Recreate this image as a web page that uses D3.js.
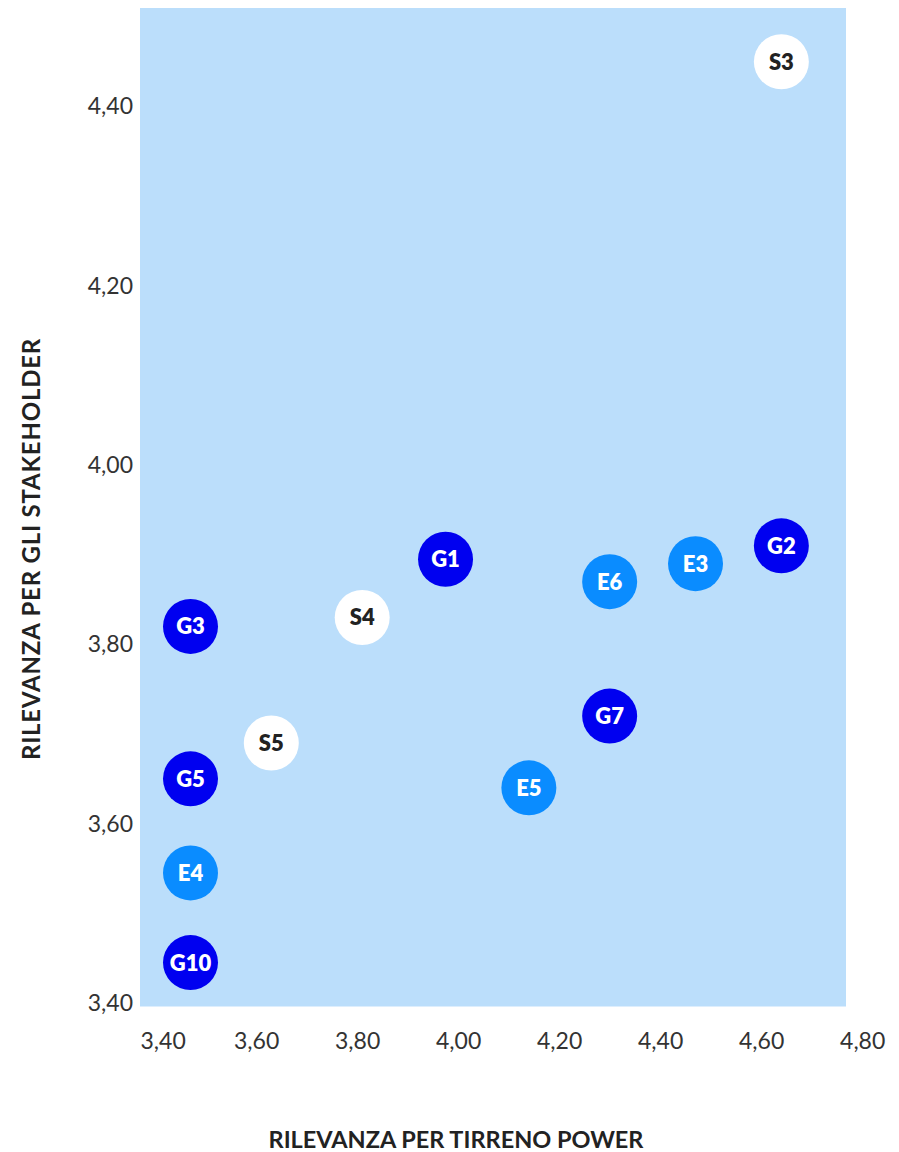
<!DOCTYPE html>
<html>
<head>
<meta charset="utf-8">
<script src="https://cdn.jsdelivr.net/npm/d3@7"></script>
<style>
  html, body { margin: 0; padding: 0; background: #ffffff; }
  svg { display: block; }
  text { font-family: Lato, "Noto Sans", sans-serif; }
</style>
</head>
<body>
<svg id="chart" width="899" height="1152"></svg>
<script>
// Materiality matrix: relevance for the company (x) vs relevance for stakeholders (y)
const codes      = ["S3", "G2", "E3", "E6", "G1", "S4", "G3", "S5", "G7", "E5", "G5", "E4", "G10"];
const groups     = ["S",  "G",  "E",  "E",  "G",  "S",  "G",  "S",  "G",  "E",  "G",  "E",  "G"];
const companyRel = [4.64, 4.64, 4.47, 4.30, 3.975, 3.81, 3.47, 3.63, 4.30, 4.14, 3.47, 3.47, 3.47];
const stakeRel   = [4.45, 3.91, 3.89, 3.87, 3.895, 3.83, 3.82, 3.69, 3.72, 3.64, 3.65, 3.545, 3.445];

const xTicks = [3.40, 3.60, 3.80, 4.00, 4.20, 4.40, 4.60, 4.80];
const yTicks = [3.40, 3.60, 3.80, 4.00, 4.20, 4.40];

const xTitle = "RILEVANZA PER TIRRENO POWER";
const yTitle = "RILEVANZA PER GLI STAKEHOLDER";

const fillByGroup = { G: "#0000f0", E: "#0a8cff", S: "#ffffff" };
const textByGroup = { G: "#ffffff", E: "#ffffff", S: "#222222" };

const points = codes.map((c, i) => ({ code: c, group: groups[i], x: companyRel[i], y: stakeRel[i] }));

const svg = d3.select("#chart");
const plot = { left: 140, right: 846, top: 8, bottom: 1006.5 };

const x = d3.scaleLinear().domain([3.37, 4.768]).range([plot.left, plot.right]);
const y = d3.scaleLinear().domain([3.396, 4.51]).range([plot.bottom, plot.top]);

const fmt = v => d3.format(".2f")(v).replace(".", ",");

// plot background
svg.append("rect")
  .attr("x", plot.left).attr("y", plot.top)
  .attr("width", plot.right - plot.left).attr("height", plot.bottom - plot.top)
  .attr("fill", "#bbdefb");

// x axis labels
const xAxis = svg.append("g")
  .attr("transform", `translate(0,${plot.bottom + 26})`)
  .call(d3.axisBottom(x).tickValues(xTicks).tickFormat(fmt).tickSize(0).tickPadding(0));
xAxis.select(".domain").remove();
xAxis.selectAll("text")
  .attr("font-size", 23).attr("fill", "#333333")
  .attr("font-family", "Lato, sans-serif");
// keep the first label inside the plot's left edge
xAxis.selectAll(".tick").filter(d => d === xTicks[0]).select("text")
  .attr("text-anchor", "start").attr("x", plot.left - x(xTicks[0]));

// y axis labels
const yAxis = svg.append("g")
  .attr("transform", `translate(${plot.left - 7},0)`)
  .call(d3.axisLeft(y).tickValues(yTicks).tickFormat(fmt).tickSize(0).tickPadding(0));
yAxis.select(".domain").remove();
yAxis.selectAll("text")
  .attr("font-size", 23).attr("fill", "#333333")
  .attr("font-family", "Lato, sans-serif");

// axis titles
svg.append("text")
  .attr("x", 456).attr("y", 1148)
  .attr("text-anchor", "middle")
  .attr("font-size", 23.5).attr("font-weight", 700).attr("fill", "#222222")
  .text(xTitle);

svg.append("text")
  .attr("transform", "translate(40,549) rotate(-90)")
  .attr("text-anchor", "middle")
  .attr("font-size", 24).attr("font-weight", 700).attr("fill", "#222222")
  .attr("letter-spacing", 0.8)
  .text(yTitle);

// bubbles
const node = svg.append("g").selectAll("g")
  .data(points).join("g")
  .attr("transform", d => `translate(${x(d.x)},${y(d.y)})`);

node.append("circle")
  .attr("r", 27.5)
  .attr("fill", d => fillByGroup[d.group]);

node.append("text")
  .attr("text-anchor", "middle")
  .attr("dy", "0.36em")
  .attr("font-size", 22).attr("font-weight", 800)
  .attr("fill", d => textByGroup[d.group])
  .text(d => d.code);
</script>
</body>
</html>
